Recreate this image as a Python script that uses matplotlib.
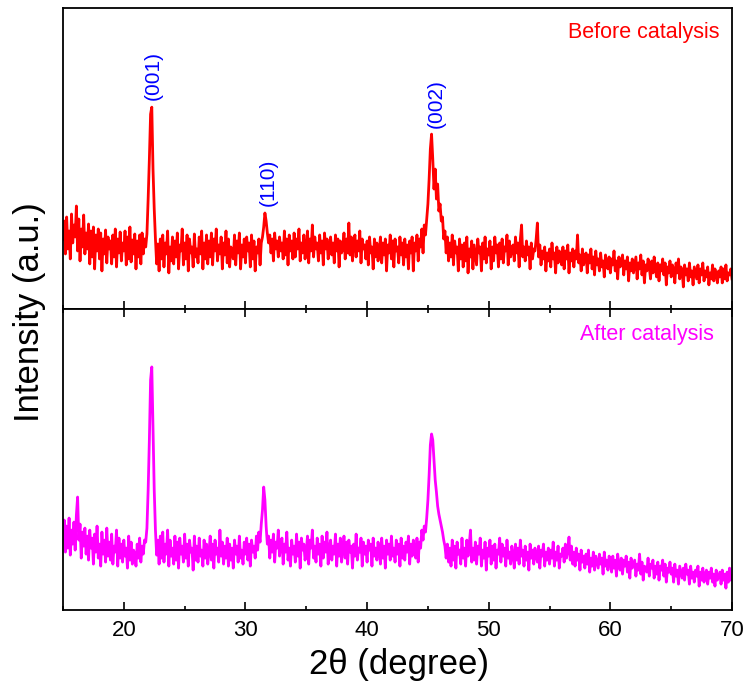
#!/usr/bin/env python
"""
XRD patterns before and after catalysis, two stacked panels with a shared 2theta axis.
"""

import numpy as np
import matplotlib
matplotlib.use('Agg')
import matplotlib.pyplot as plt
from matplotlib.ticker import MultipleLocator

plt.rcParams['font.family'] = ['Liberation Sans', 'DejaVu Sans']

# 2theta grid: 15.0 to 70.0 deg, 0.1 deg step (one row below = one degree)
theta_start = 15.0
theta_step = 0.1

# intensity (a.u.), before catalysis
before = [
    70, 88, 55, 92, 60, 78, 50, 95, 66, 84,
    72, 103, 58, 90, 48, 80, 62, 94, 55, 76,
    60, 85, 45, 78, 52, 82, 40, 74, 58, 80,
    50, 76, 38, 70, 55, 79, 46, 72, 60, 68,
    45, 74, 52, 80, 42, 70, 56, 77, 48, 66,
    58, 78, 44, 72, 50, 82, 47, 69, 55, 75,
    40, 68, 52, 74, 45, 76, 55, 70, 62, 75,
    110, 150, 195, 202, 140, 100, 70, 45, 65, 38,
    70, 50, 74, 42, 66, 55, 78, 36, 62, 48,
    72, 45, 68, 52, 76, 40, 64, 58, 80, 44,
    66, 50, 74, 38, 70, 56, 62, 42, 75, 52,
    60, 46, 72, 55, 78, 40, 66, 50, 74, 45,
    68, 52, 76, 44, 70, 58, 80, 48, 64, 55,
    72, 40, 66, 54, 78, 46, 70, 42, 62, 58,
    50, 74, 44, 68, 56, 76, 40, 64, 52, 70,
    46, 72, 58, 66, 42, 74, 50, 68, 38, 62,
    56, 70, 44, 66, 72, 82, 96, 88, 76, 66,
    74, 56, 70, 48, 76, 60, 68, 52, 72, 58,
    66, 50, 78, 54, 70, 44, 74, 58, 68, 50,
    76, 52, 70, 60, 80, 48, 66, 56, 74, 50,
    62, 78, 46, 70, 58, 84, 52, 72, 60, 66,
    48, 74, 56, 68, 44, 76, 60, 70, 50, 64,
    72, 54, 66, 46, 74, 58, 70, 42, 68, 56,
    60, 76, 50, 70, 56, 86, 54, 72, 48, 66,
    74, 52, 68, 58, 78, 46, 70, 60, 64, 50,
    68, 44, 72, 56, 62, 40, 70, 52, 66, 48,
    58, 72, 46, 66, 54, 70, 38, 64, 56, 74,
    50, 68, 42, 70, 58, 62, 46, 72, 54, 66,
    44, 70, 52, 64, 40, 68, 56, 72, 38, 66,
    58, 74, 48, 70, 62, 80, 56, 84, 74, 90,
    105, 130, 160, 175, 150, 120, 140, 110, 125, 98,
    105, 88, 92, 70, 78, 56, 72, 48, 66, 52,
    74, 44, 68, 56, 62, 38, 70, 50, 64, 42,
    66, 48, 72, 36, 60, 52, 68, 40, 64, 54,
    44, 70, 56, 62, 38, 66, 50, 72, 46, 60,
    54, 68, 40, 62, 48, 72, 56, 64, 42, 66,
    50, 70, 46, 62, 58, 74, 44, 68, 52, 60,
    64, 48, 72, 56, 66, 42, 70, 84, 52, 62,
    48, 68, 54, 62, 40, 66, 50, 60, 58, 70,
    86, 52, 64, 44, 58, 50, 62, 38, 56, 48,
    60, 42, 66, 50, 56, 36, 62, 46, 58, 52,
    44, 62, 40, 58, 50, 64, 36, 56, 48, 60,
    42, 58, 50, 74, 46, 54, 38, 60, 44, 52,
    56, 36, 54, 46, 60, 40, 52, 34, 58, 44,
    50, 38, 56, 42, 48, 32, 54, 46, 40, 52,
    36, 50, 44, 58, 38, 48, 30, 52, 42, 46,
    54, 34, 48, 40, 52, 28, 46, 38, 50, 36,
    44, 52, 30, 46, 40, 54, 34, 48, 26, 44,
    38, 50, 42, 30, 48, 36, 52, 40, 32, 46,
    28, 44, 38, 50, 34, 46, 24, 42, 36, 48,
    32, 44, 40, 26, 46, 36, 50, 30, 42, 38,
    22, 44, 34, 40, 28, 46, 32, 38, 24, 42,
    36, 30, 44, 26, 40, 34, 46, 28, 38, 32,
    42, 24, 36, 30, 44, 28, 40, 34, 26, 38,
    32, 42, 26, 40, 30, 44, 28, 36, 34, 40,
    30,
]

# intensity (a.u.), after catalysis
after = [
    72, 90, 58, 84, 62, 92, 55, 80, 66, 88,
    60, 95, 113, 70, 86, 52, 78, 64, 82, 56,
    74, 50, 80, 62, 72, 46, 76, 58, 84, 52,
    66, 44, 78, 56, 70, 48, 82, 54, 68, 50,
    76, 46, 64, 58, 80, 44, 72, 52, 66, 48,
    70, 54, 62, 42, 74, 50, 68, 46, 60, 56,
    44, 66, 52, 72, 48, 64, 56, 70, 68, 82,
    120, 170, 230, 243, 180, 120, 80, 55, 70, 46,
    74, 52, 78, 48, 66, 56, 80, 44, 70, 54,
    62, 46, 74, 50, 68, 42, 72, 56, 64, 48,
    76, 52, 66, 44, 70, 58, 62, 40, 74, 50,
    64, 48, 72, 54, 60, 44, 70, 52, 66, 46,
    58, 74, 50, 66, 42, 70, 56, 62, 48, 80,
    54, 68, 46, 64, 52, 72, 44, 66, 50, 62,
    42, 70, 56, 64, 48, 74, 52, 60, 46, 68,
    56, 72, 50, 66, 44, 70, 58, 64, 52, 74,
    60, 78, 68, 86, 100, 123, 110, 84, 66, 74,
    52, 70, 58, 76, 48, 68, 62, 80, 54, 66,
    72, 46, 66, 58, 78, 50, 62, 44, 70, 56,
    64, 48, 76, 54, 68, 42, 72, 60, 66, 50,
    58, 74, 46, 70, 62, 80, 52, 64, 48, 72,
    56, 66, 44, 74, 52, 68, 58, 78, 46, 62,
    70, 50, 64, 56, 76, 44, 66, 54, 72, 48,
    60, 74, 52, 68, 46, 70, 58, 64, 42, 66,
    54, 76, 50, 62, 58, 72, 44, 68, 56, 64,
    48, 70, 60, 66, 44, 72, 54, 62, 50, 68,
    58, 46, 72, 52, 64, 42, 70, 56, 66, 50,
    74, 54, 62, 48, 70, 56, 66, 44, 72, 52,
    64, 50, 68, 58, 74, 46, 66, 54, 70, 60,
    52, 72, 48, 68, 62, 80, 70, 84, 78, 92,
    110, 135, 165, 176, 170, 150, 130, 118, 104, 96,
    90, 84, 78, 70, 64, 52, 66, 48, 62, 44,
    70, 50, 64, 42, 68, 56, 60, 46, 72, 52,
    62, 44, 70, 54, 66, 80, 48, 62, 50, 68,
    46, 64, 56, 72, 44, 60, 52, 68, 40, 62,
    54, 70, 46, 64, 50, 66, 42, 60, 56, 72,
    48, 66, 54, 62, 44, 70, 52, 58, 46, 64,
    56, 42, 66, 50, 62, 46, 70, 54, 60, 44,
    64, 50, 58, 40, 66, 52, 60, 46, 62, 54,
    48, 64, 42, 60, 54, 66, 44, 58, 50, 62,
    46, 60, 52, 68, 44, 58, 50, 64, 42, 56,
    54, 62, 48, 66, 52, 60, 73, 50, 64, 46,
    58, 44, 62, 50, 56, 40, 60, 48, 54, 42,
    56, 46, 60, 38, 52, 44, 58, 40, 54, 48,
    42, 56, 46, 52, 36, 58, 44, 50, 40, 54,
    48, 38, 54, 42, 50, 34, 56, 46, 40, 52,
    36, 50, 44, 54, 38, 48, 32, 52, 42, 46,
    50, 34, 46, 40, 56, 36, 48, 30, 44, 42,
    38, 52, 34, 46, 42, 50, 32, 44, 36, 48,
    30, 44, 40, 50, 34, 46, 28, 42, 38, 48,
    36, 42, 28, 46, 34, 40, 26, 44, 38, 32,
    42, 30, 46, 36, 40, 26, 44, 32, 38, 28,
    40, 34, 44, 24, 38, 30, 42, 28, 36, 40,
    26, 38, 32, 42, 28, 36, 24, 40, 30, 34,
    38, 26, 40, 30, 36, 22, 38, 28, 42, 30,
    34,
]

# peak labels for the top panel: (label, 2theta, intensity at label base)
peak_labels = ['(001)', '(110)', '(002)']
peak_pos = [22.4, 31.9, 45.65]
peak_base = [209, 103, 181]


def style_axis(ax, top_ticks):
    ax.set_xlim(15, 70)
    ax.set_ylim(0, 301)
    ax.set_yticks([])
    ax.xaxis.set_major_locator(MultipleLocator(10))
    ax.xaxis.set_minor_locator(MultipleLocator(5))
    ax.tick_params(axis='x', which='major', direction='in', length=6, width=1.2,
                   top=top_ticks, labelsize=16, pad=7)
    ax.tick_params(axis='x', which='minor', direction='in', length=3, width=1.2, top=top_ticks)
    for sp in ax.spines.values():
        sp.set_linewidth(1.3)


def main():
    two_theta = theta_start + theta_step * np.arange(len(before))
    fig = plt.figure(figsize=(7.5, 6.91), dpi=100)
    ax1 = fig.add_axes([0.084, 0.553, 0.892, 0.435])
    ax2 = fig.add_axes([0.084, 0.117, 0.892, 0.436], sharex=ax1)

    ax1.plot(two_theta, before, color='#ff0000', lw=2.0)
    ax2.plot(two_theta, after, color='#ff00ff', lw=2.0)

    style_axis(ax1, top_ticks=False)
    style_axis(ax2, top_ticks=True)
    ax1.tick_params(axis='x', which='both', labelbottom=False)

    for lab, xp, yp in zip(peak_labels, peak_pos, peak_base):
        ax1.text(xp, yp, lab, rotation=90, ha='center', va='bottom', color='#0000ff', fontsize=15)

    ax1.text(0.982, 0.955, 'Before catalysis', transform=ax1.transAxes, ha='right', va='top',
             color='#ff0000', fontsize=15.5)
    ax2.text(0.973, 0.95, 'After catalysis', transform=ax2.transAxes, ha='right', va='top',
             color='#ff00ff', fontsize=15.5)

    fig.text(0.039, 0.549, 'Intensity (a.u.)', rotation=90, ha='center', va='center', fontsize=25)
    fig.text(0.532, 0.038, '2\u03b8 (degree)', ha='center', va='center', fontsize=25)

    plt.savefig('out.png', dpi=100)
    plt.close()


if __name__ == '__main__':
    main()
